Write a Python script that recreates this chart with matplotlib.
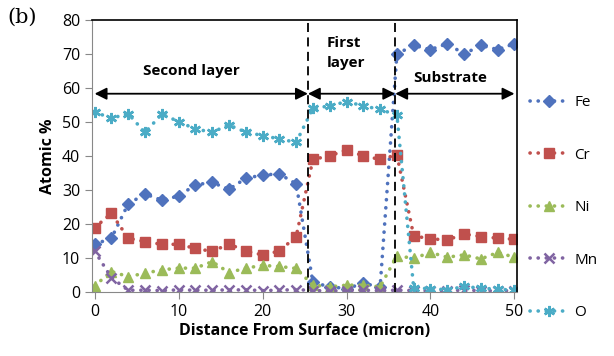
import matplotlib.pyplot as plt

# distance from surface (micron)
dist = [0, 2, 4, 6, 8, 10, 12, 14, 16, 18, 20, 22, 24,
        26, 28, 30, 32, 34, 36, 38, 40, 42, 44, 46, 48, 50]

fe = [14, 15.8, 25.9, 28.8, 27, 28.2, 31.5, 32.2, 30.2, 33.4, 34.4, 34.7, 31.8,
      2.8, 1.5, 1, 2.5, 1.5, 70, 72.5, 71.3, 73, 70, 72.5, 71.3, 73]
cr = [18.9, 23.1, 15.8, 14.8, 14, 14, 12.8, 11.9, 14.1, 12, 10.9, 12, 16.3,
      39, 40, 41.8, 40, 39, 40.3, 16.5, 15.6, 15.3, 17, 16.3, 15.8, 15.5]
ni = [1.8, 6, 4.5, 5.5, 6.5, 7, 7, 8.9, 5.7, 7, 7.8, 7.5, 6.9,
      2, 1.5, 2, 2, 1.5, 10.6, 9.9, 11.6, 10.2, 10.9, 9.7, 11.6, 10.2]
mn = [12, 4.2, 0.5, 0.5, 0.4, 0.6, 0.5, 0.5, 0.6, 0.6, 0.4, 0.5, 0.7,
      0.4, 0.3, 0.4, 0.5, 0.4, 0.5, 0.4, 0.3, 0.4, 0.5, 0.4, 0.3, 0.4]
o = [52.9, 51.1, 52.4, 46.9, 52.3, 50.1, 47.9, 47, 49.1, 47, 46, 45, 44,
     54, 54.7, 56, 54.7, 53.7, 52, 1.1, 1, 0.6, 1.6, 1.1, 0.8, 0.5]

names = ["Fe", "Cr", "Ni", "Mn", "O"]
series = [fe, cr, ni, mn, o]
colors = ["#4F72BD", "#C0504D", "#9BBB59", "#8064A2", "#4BACC6"]
markers = ["D", "s", "^", "x", (6, 2, 0)]
msizes = [6, 7, 7.5, 7, 8]

# layer boundaries and arrow height
bounds = [0, 25.4, 35.8, 50]
arrow_y = 58.3

plt.rcParams['font.family'] = ['Open Sans', 'DejaVu Sans']

fig = plt.figure(figsize=(6.14, 3.56), dpi=100)
ax = fig.add_axes([0.150, 0.180, 0.692, 0.764])

for name, vals, c, m, s in zip(names, series, colors, markers, msizes):
    ax.plot(dist, vals, color=c, marker=m, markersize=s,
            markeredgewidth=1.8 if m in ("x", (6, 2, 0)) else 1,
            linestyle=(0, (0.05, 2.2)), dash_capstyle='round', linewidth=2.6, label=name)

for b in bounds[1:3]:
    ax.axvline(b, color='black', linestyle=(0, (5, 3)), linewidth=1.3)

for a, b in zip(bounds[:-1], bounds[1:]):
    ax.annotate("", xy=(a, arrow_y), xytext=(b, arrow_y),
                arrowprops=dict(arrowstyle='<|-|>', color='black', lw=1.3,
                                mutation_scale=18, shrinkA=0, shrinkB=0))

ax.text(11.5, 65, "Second layer", ha='center', va='center', fontsize=11, fontweight='bold')
ax.text(27.6, 70.3, "First\nlayer", ha='left', va='center', fontsize=11, fontweight='bold',
        linespacing=1.5)
ax.text(42.4, 63, "Substrate", ha='center', va='center', fontsize=11, fontweight='bold')

ax.set_xlim(-0.3, 50.3)
ax.set_ylim(0, 80)
ax.set_xticks(range(0, 51, 10))
ax.set_yticks(range(0, 81, 10))
ax.tick_params(labelsize=11.5, colors='black', length=5, color='#888888')
ax.spines['left'].set_color('#888888')
ax.spines['bottom'].set_color('#888888')
ax.spines['top'].set_linewidth(1.2)
ax.spines['right'].set_linewidth(1.2)

ax.set_xlabel("Distance From Surface (micron)", fontsize=11.5, fontweight='bold', labelpad=2)
ax.set_ylabel("Atomic %", fontsize=11.5, fontweight='bold', labelpad=4)

fig.text(0.012, 0.935, "(b)", fontsize=15, family='DejaVu Serif')

leg = ax.legend(loc='center left', bbox_to_anchor=(1.005, 0.31), frameon=False,
                fontsize=11, handlelength=2.5, labelspacing=2.45, handletextpad=0.4,
                borderpad=0.2)

fig.savefig("out.png", dpi=100)
